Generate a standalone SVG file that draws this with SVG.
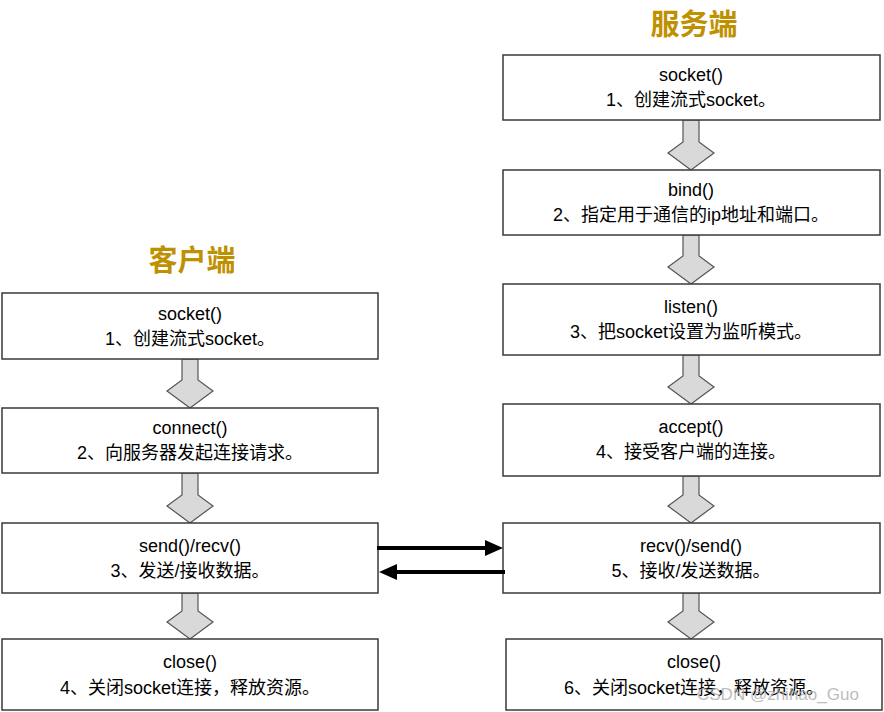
<svg xmlns="http://www.w3.org/2000/svg" width="884" height="712" viewBox="0 0 884 712">
<style>
.title{font-family:"Noto Sans CJK SC","Noto Sans",sans-serif;font-size:29px;font-weight:bold;fill:#bf9000;text-anchor:middle}
.box{fill:#ffffff;stroke:#3a3a3a;stroke-width:1.5}
.t{font-family:"Liberation Sans","Noto Sans CJK SC",sans-serif;font-size:18px;fill:#000;text-anchor:middle}
.blk{fill:#d9d9d9;stroke:#555;stroke-width:1.2;stroke-linejoin:miter}
.conn{stroke:#000;stroke-width:4;fill:none}
.wm{font-family:"Liberation Sans",sans-serif;font-size:17px;fill:#a8a8a8;opacity:0.75}
</style>
<rect width="884" height="712" fill="#fff"/>
<text class="title" x="694" y="35">服务端</text>
<text class="title" x="192" y="271">客户端</text>
<g id="flow-arrows">
<polygon class="blk" points="182,359 198,359 198,380 213,391 190,408 167,391 182,380"/>
<polygon class="blk" points="182,473 198,473 198,495 213,506 190,523 167,506 182,495"/>
<polygon class="blk" points="182,593 198,593 198,611 213,622 190,639 167,622 182,611"/>
<polygon class="blk" points="683,120 699,120 699,142 714,153 691,170 668,153 683,142"/>
<polygon class="blk" points="683,235 699,235 699,256 714,267 691,284 668,267 683,256"/>
<polygon class="blk" points="683,355 699,355 699,376 714,387 691,404 668,387 683,376"/>
<polygon class="blk" points="683,476 699,476 699,495 714,506 691,523 668,506 683,495"/>
<polygon class="blk" points="683,593 699,593 699,611 714,622 691,639 668,622 683,611"/>
</g>
<g id="c1"><rect class="box" x="2" y="293" width="376" height="66"/><text class="t" x="190" y="320">socket()</text><text class="t" x="190" y="345">1、创建流式socket。</text></g>
<g id="c2"><rect class="box" x="2" y="408" width="376" height="65"/><text class="t" x="190" y="434">connect()</text><text class="t" x="190" y="459">2、向服务器发起连接请求。</text></g>
<g id="c3"><rect class="box" x="2" y="523" width="376" height="70"/><text class="t" x="190" y="552">send()/recv()</text><text class="t" x="190" y="577">3、发送/接收数据。</text></g>
<g id="c4"><rect class="box" x="2" y="639" width="376" height="71"/><text class="t" x="190" y="668">close()</text><text class="t" x="190" y="694">4、关闭socket连接，释放资源。</text></g>
<g id="s1"><rect class="box" x="503" y="55" width="377" height="65"/><text class="t" x="691" y="81">socket()</text><text class="t" x="691" y="106">1、创建流式socket。</text></g>
<g id="s2"><rect class="box" x="503" y="170" width="377" height="65"/><text class="t" x="691" y="196">bind()</text><text class="t" x="691" y="221">2、指定用于通信的ip地址和端口。</text></g>
<g id="s3"><rect class="box" x="503" y="284" width="377" height="71"/><text class="t" x="691" y="313">listen()</text><text class="t" x="691" y="338">3、把socket设置为监听模式。</text></g>
<g id="s4"><rect class="box" x="503" y="404" width="377" height="72"/><text class="t" x="691" y="433">accept()</text><text class="t" x="691" y="458">4、接受客户端的连接。</text></g>
<g id="s5"><rect class="box" x="503" y="523" width="377" height="70"/><text class="t" x="691" y="552">recv()/send()</text><text class="t" x="691" y="577">5、接收/发送数据。</text></g>
<g id="s6"><rect class="box" x="506" y="639" width="376" height="71"/><text class="t" x="694" y="668">close()</text><text class="t" x="694" y="694">6、关闭socket连接，释放资源。</text></g>
<g id="connectors">
<line class="conn" x1="377" y1="548" x2="487" y2="548"/>
<polygon points="503,548 485,540 485,556" fill="#000"/>
<line class="conn" x1="505" y1="572" x2="395" y2="572"/>
<polygon points="379,572 397,564 397,580" fill="#000"/>
</g>
<text class="wm" x="697" y="700">CSDN @zhihao_Guo</text>
</svg>
